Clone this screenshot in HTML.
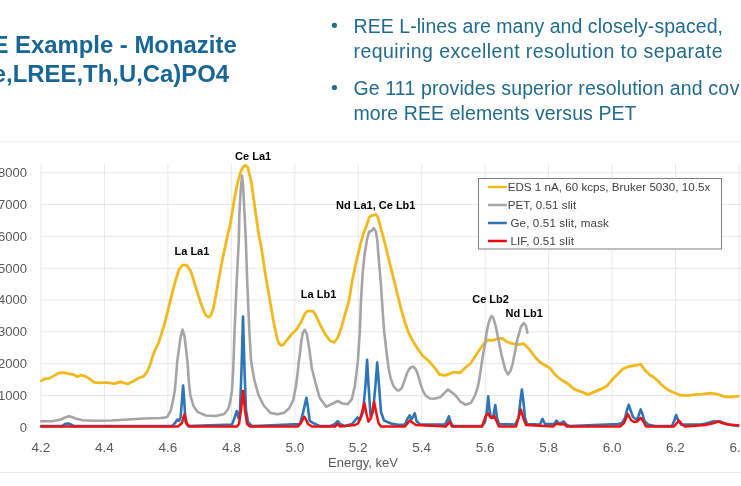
<!DOCTYPE html>
<html><head><meta charset="utf-8">
<style>
html,body{margin:0;padding:0;background:#fff;}
body{width:741px;height:486px;overflow:hidden;position:relative;font-family:"Liberation Sans",Arial,sans-serif;}
svg{position:absolute;left:0;top:0;}
</style></head><body>
<svg width="741" height="486" viewBox="0 0 741 486">
<g font-family="Liberation Sans, Arial, sans-serif" font-weight="bold" font-size="23.9" fill="#186696">
<text x="-40.8" y="52.7">REE Example - Monazite</text>
<text x="-32.4" y="81.8">(Ce,LREE,Th,U,Ca)PO4</text>
</g>
<g font-family="Liberation Sans, Arial, sans-serif" font-size="19.5" fill="#226b8c">
<circle cx="334.4" cy="25.3" r="2.6"/>
<circle cx="334.4" cy="87.5" r="2.6"/>
<text x="353.5" y="33.2" textLength="369.5" lengthAdjust="spacing">REE L-lines are many and closely-spaced,</text>
<text x="353.5" y="58.1" textLength="369" lengthAdjust="spacing">requiring excellent resolution to separate</text>
<text x="353.5" y="95.4" letter-spacing="0.135">Ge 111 provides superior resolution and co<tspan dx="0.5">v</tspan><tspan dx="3">ers</tspan></text>
<text x="353.5" y="120.3" textLength="283" lengthAdjust="spacing">more REE elements versus PET</text>
</g>
<line x1="0" y1="141.9" x2="741" y2="141.9" stroke="#ececec" stroke-width="1"/>
<line x1="0" y1="472.4" x2="741" y2="472.4" stroke="#e6e6e6" stroke-width="1"/>
<g stroke="#e8e8e8" stroke-width="1">
<line x1="41" y1="395.5" x2="741" y2="395.5"/>
<line x1="41" y1="363.6" x2="741" y2="363.6"/>
<line x1="41" y1="331.8" x2="741" y2="331.8"/>
<line x1="41" y1="300.0" x2="741" y2="300.0"/>
<line x1="41" y1="268.2" x2="741" y2="268.2"/>
<line x1="41" y1="236.3" x2="741" y2="236.3"/>
<line x1="41" y1="204.5" x2="741" y2="204.5"/>
<line x1="41" y1="172.7" x2="741" y2="172.7"/>
<line x1="41.0" y1="163.5" x2="41.0" y2="427.3"/>
<line x1="104.5" y1="163.5" x2="104.5" y2="427.3"/>
<line x1="167.9" y1="163.5" x2="167.9" y2="427.3"/>
<line x1="231.4" y1="163.5" x2="231.4" y2="427.3"/>
<line x1="294.8" y1="163.5" x2="294.8" y2="427.3"/>
<line x1="358.2" y1="163.5" x2="358.2" y2="427.3"/>
<line x1="421.7" y1="163.5" x2="421.7" y2="427.3"/>
<line x1="485.2" y1="163.5" x2="485.2" y2="427.3"/>
<line x1="548.6" y1="163.5" x2="548.6" y2="427.3"/>
<line x1="612.1" y1="163.5" x2="612.1" y2="427.3"/>
<line x1="675.5" y1="163.5" x2="675.5" y2="427.3"/>
<line x1="739.0" y1="163.5" x2="739.0" y2="427.3"/>
</g>
<g font-family="Liberation Sans, Arial, sans-serif" font-size="13" fill="#595959">
<text x="27" y="431.6" text-anchor="end">0</text>
<text x="27" y="399.8" text-anchor="end">1000</text>
<text x="27" y="367.9" text-anchor="end">2000</text>
<text x="27" y="336.1" text-anchor="end">3000</text>
<text x="27" y="304.3" text-anchor="end">4000</text>
<text x="27" y="272.5" text-anchor="end">5000</text>
<text x="27" y="240.6" text-anchor="end">6000</text>
<text x="27" y="208.8" text-anchor="end">7000</text>
<text x="27" y="177.0" text-anchor="end">8000</text>
<text x="41.0" y="451.6" text-anchor="middle" font-size="13.5">4.2</text>
<text x="104.5" y="451.6" text-anchor="middle" font-size="13.5">4.4</text>
<text x="167.9" y="451.6" text-anchor="middle" font-size="13.5">4.6</text>
<text x="231.4" y="451.6" text-anchor="middle" font-size="13.5">4.8</text>
<text x="294.8" y="451.6" text-anchor="middle" font-size="13.5">5.0</text>
<text x="358.2" y="451.6" text-anchor="middle" font-size="13.5">5.2</text>
<text x="421.7" y="451.6" text-anchor="middle" font-size="13.5">5.4</text>
<text x="485.2" y="451.6" text-anchor="middle" font-size="13.5">5.6</text>
<text x="548.6" y="451.6" text-anchor="middle" font-size="13.5">5.8</text>
<text x="612.1" y="451.6" text-anchor="middle" font-size="13.5">6.0</text>
<text x="675.5" y="451.6" text-anchor="middle" font-size="13.5">6.2</text>
<text x="739.0" y="451.6" text-anchor="middle" font-size="13.5">6.4</text>
<text x="363" y="466.5" text-anchor="middle">Energy, keV</text>
</g>
<g fill="none" stroke-linejoin="round" stroke-linecap="round" stroke-width="2.8">
<polyline stroke="#f2b91e" points="41.2,380.9 45.1,378.7 49.4,378.4 53.7,375.9 58.8,373.0 63.8,372.7 69.6,374.0 73.2,374.4 76.8,376.6 81.1,375.1 84.7,376.1 89.0,378.4 94.1,382.3 99.8,382.8 104.9,382.6 107.0,382.6 112.8,383.3 114.8,383.7 120.5,381.8 127.5,384.0 133.3,381.3 138.6,378.0 143.6,376.3 146.9,372.2 150.1,364.8 152.6,356.6 155.1,350.0 158.8,342.3 162.0,332.0 165.0,322.3 170.1,301.7 175.3,281.2 179.4,268.8 182.5,265.1 186.6,265.1 190.7,270.9 195.8,287.3 201.0,303.8 205.1,314.1 207.0,316.3 208.8,317.0 210.6,315.8 213.4,308.2 216.5,291.7 219.5,275.3 222.6,258.8 225.7,244.4 228.8,230.0 230.0,226.0 234.4,198.8 237.6,182.7 240.9,171.3 243.5,166.6 245.5,165.3 247.8,167.5 251.3,182.0 255.9,214.8 258.8,235.0 261.2,246.5 265.5,275.3 269.8,300.0 274.2,325.0 277.5,340.0 279.2,343.8 281.0,345.4 283.0,344.8 285.5,341.8 291.7,334.2 296.5,329.5 301.5,321.3 304.8,313.9 307.2,311.1 313.0,311.1 316.3,316.3 320.4,325.4 325.3,334.4 330.3,341.0 334.4,342.3 337.7,337.7 341.8,326.2 345.9,311.4 349.2,299.9 351.7,283.8 355.5,265.0 357.9,255.0 360.5,244.0 363.0,234.8 366.6,225.6 369.2,217.3 371.7,215.3 373.8,215.3 375.9,214.3 377.9,217.3 381.0,228.7 384.1,240.0 387.7,255.0 390.0,264.1 394.9,283.8 397.6,295.0 401.1,309.0 404.6,321.2 408.1,331.7 412.5,340.5 416.9,347.4 420.0,352.0 423.0,356.2 426.5,359.0 430.0,362.3 435.2,368.4 439.6,374.5 445.0,375.4 446.8,374.9 453.5,372.2 460.0,372.8 465.0,368.0 470.0,364.0 473.5,359.0 477.4,353.0 480.5,348.5 483.9,343.7 487.6,340.0 490.5,340.3 494.1,340.0 497.8,338.5 502.4,338.5 507.0,341.9 512.6,343.7 518.1,344.6 523.7,343.7 526.5,346.5 529.3,349.3 534.8,356.7 540.0,362.2 550.0,368.3 555.6,375.2 561.1,379.8 567.6,383.5 574.1,389.1 581.5,391.9 588.0,394.6 594.4,391.9 600.9,389.1 606.5,386.3 612.0,379.8 617.6,374.3 623.1,368.7 627.8,366.9 633.3,365.6 638.0,365.0 640.7,364.1 644.4,369.6 650.0,375.2 652.1,376.1 657.7,380.7 663.2,386.3 668.8,390.4 674.3,392.8 679.9,395.2 687.3,395.6 694.7,394.6 702.1,394.1 711.4,393.1 716.9,394.1 725.6,396.9 731.0,397.0 736.5,396.4 738.2,396.2"/>
<polyline stroke="#a5a5a5" stroke-width="2.6" points="41.2,421.2 52.3,421.2 60.2,419.8 64.0,418.0 68.9,416.2 72.0,417.0 75.3,418.4 82.6,420.2 95.0,420.8 111.5,420.5 127.9,419.5 144.4,418.5 160.8,418.0 165.0,417.5 167.4,416.7 170.7,410.9 173.2,399.4 175.0,389.5 177.3,360.9 180.4,338.2 182.5,329.5 184.5,336.2 187.6,362.9 188.7,380.0 190.3,395.4 193.4,405.7 197.5,411.9 205.7,415.5 216.0,416.0 224.2,414.0 228.4,408.8 230.4,400.6 232.0,390.3 233.2,370.0 234.6,330.0 236.6,283.8 238.8,240.0 239.4,213.2 240.6,191.6 242.0,175.8 243.0,184.4 244.5,213.2 245.8,240.0 247.3,283.8 249.3,330.0 251.0,360.0 252.5,370.0 254.4,380.1 258.4,394.8 263.7,405.5 270.4,412.9 277.1,414.2 283.8,412.9 289.2,408.2 293.2,400.2 295.9,386.8 297.9,370.7 298.7,362.0 299.8,354.9 301.2,342.0 302.8,332.8 304.8,329.8 306.7,333.6 309.3,349.0 311.8,368.0 315.5,382.9 319.6,397.7 326.2,406.8 332.7,403.5 337.7,401.0 342.6,403.5 347.6,404.3 351.7,399.4 354.8,386.4 357.8,361.7 359.8,332.0 361.0,300.0 362.8,271.5 364.5,255.0 367.1,239.0 369.2,231.7 371.7,230.7 373.8,228.1 375.9,231.7 377.4,241.0 378.4,255.0 380.9,283.8 382.6,310.0 384.0,330.0 386.9,355.0 388.7,368.9 390.6,378.1 393.3,385.6 397.0,390.2 398.9,390.6 401.7,388.3 404.4,380.9 407.2,372.6 410.0,368.0 412.8,366.6 415.6,368.9 417.9,374.4 420.2,382.8 423.0,391.1 425.7,395.7 430.0,398.5 434.0,398.8 440.1,397.3 446.3,391.1 448.1,389.6 455.0,394.8 460.3,401.5 465.7,404.8 471.0,402.8 475.0,395.5 477.7,387.4 479.7,376.7 481.7,363.4 483.1,354.0 484.8,345.6 486.5,333.0 488.5,323.3 490.5,317.5 491.9,315.9 493.5,318.5 495.9,327.0 498.5,340.0 501.5,354.8 505.2,369.6 508.0,374.3 510.5,371.0 512.6,364.0 515.0,352.0 517.2,340.0 520.9,327.0 523.7,323.0 525.8,325.5 527.4,332.6"/>
<polyline stroke="#2e75b6" stroke-width="2.6" points="41.2,426.1 62.0,426.1 65.0,424.0 68.1,423.5 71.0,424.5 74.0,426.1 172.0,426.1 175.0,423.0 177.3,419.5 179.0,421.0 180.5,418.0 182.0,400.0 183.1,385.6 184.2,400.0 185.5,422.0 188.0,426.1 232.0,424.5 234.5,418.0 236.6,411.0 238.5,418.0 240.0,410.0 241.5,370.0 243.0,316.6 244.5,370.0 246.0,410.0 248.0,422.0 252.0,426.1 300.0,424.0 303.1,412.6 306.4,397.7 307.5,404.0 309.7,420.8 313.0,423.0 320.0,426.1 330.0,426.1 335.0,424.0 337.7,421.1 340.0,424.0 345.0,426.1 352.0,424.0 357.4,417.5 360.0,420.0 363.0,412.0 365.5,385.0 367.1,359.8 368.5,385.0 370.6,416.4 373.0,412.0 375.5,385.0 377.2,362.5 379.0,385.0 381.0,412.0 384.0,420.5 391.2,423.6 398.0,424.8 405.0,424.5 407.6,418.5 409.7,415.4 411.5,419.5 414.8,413.3 416.5,421.0 420.0,424.5 445.0,424.5 447.5,420.0 448.9,416.3 450.5,422.0 453.0,426.1 482.0,426.1 485.0,422.0 487.0,410.0 488.2,396.3 489.5,410.0 491.0,418.0 493.0,418.0 495.3,405.0 497.0,418.0 499.0,424.0 515.0,424.5 518.5,418.0 520.5,400.0 521.9,389.6 523.5,402.0 525.0,418.0 527.0,424.0 540.0,424.5 542.5,418.9 545.0,424.0 554.0,424.0 556.5,420.6 559.0,423.5 561.0,423.0 563.9,421.5 566.0,424.5 570.0,426.1 618.0,424.0 622.0,423.0 625.0,418.0 627.0,410.0 628.7,404.8 630.5,410.0 633.0,417.0 637.0,420.0 639.5,413.0 640.7,409.4 642.5,414.0 644.5,421.0 648.0,424.5 655.0,426.1 672.0,426.1 674.5,420.0 676.2,415.0 678.0,420.0 681.0,424.5 700.0,424.5 706.0,423.5 711.4,421.9 715.0,421.2 720.0,421.5 725.0,423.5 732.0,425.3 738.2,426.0"/>
<polyline stroke="#ee1111" stroke-width="2.5" points="41.2,426.5 178.0,426.5 182.0,423.0 183.5,417.0 184.5,414.4 185.5,418.0 187.0,424.0 190.0,426.5 237.0,426.5 239.0,424.0 241.0,410.0 243.0,391.0 245.0,410.0 247.0,424.0 250.0,426.5 298.0,426.5 301.0,423.0 303.0,419.0 304.4,416.7 306.0,419.5 308.0,424.0 312.0,426.5 335.0,426.5 337.7,424.0 340.0,426.5 355.0,425.0 358.0,423.5 361.0,416.0 364.4,403.0 366.5,414.0 368.5,421.6 371.0,418.0 374.1,402.0 376.5,414.0 378.5,423.0 381.0,426.5 405.0,426.5 409.7,420.5 413.0,423.0 416.0,425.0 446.0,426.5 449.5,421.7 452.0,426.5 482.0,426.5 485.6,416.3 488.2,413.3 490.0,417.0 492.0,418.0 494.1,415.8 496.0,420.0 499.0,426.5 516.0,426.5 518.5,418.0 520.9,409.6 523.0,417.0 526.0,425.0 553.0,426.5 556.5,423.5 560.0,424.5 564.0,424.0 567.0,426.5 620.0,426.5 624.0,423.0 627.8,414.1 631.0,420.0 634.0,422.0 637.0,421.5 640.7,417.8 643.0,421.0 646.0,426.5 674.0,426.5 677.0,423.0 679.0,420.6 682.0,424.5 685.0,426.5 705.0,425.0 712.0,423.5 718.8,421.5 722.0,423.0 728.0,424.5 738.2,425.3"/>
</g>
<g font-family="Liberation Sans, Arial, sans-serif" font-size="11" font-weight="bold" fill="#000">
<text x="235.1" y="160">Ce La1</text>
<text x="174.5" y="255">La La1</text>
<text x="336" y="208.8">Nd La1, Ce Lb1</text>
<text x="300.8" y="298">La Lb1</text>
<text x="472.2" y="303.2">Ce Lb2</text>
<text x="505.6" y="317">Nd Lb1</text>
</g>
<rect x="478.5" y="178.5" width="243" height="70.5" fill="#fff" stroke="#7f7f7f" stroke-width="1"/>
<g stroke-width="2.5">
<line x1="488" y1="187" x2="506.8" y2="187" stroke="#f7bc1a"/>
<line x1="488" y1="205" x2="506.8" y2="205" stroke="#a5a5a5"/>
<line x1="488" y1="223" x2="506.8" y2="223" stroke="#2e75b6"/>
<line x1="488" y1="241" x2="506.8" y2="241" stroke="#ff0000"/>
</g>
<g font-family="Liberation Sans, Arial, sans-serif" font-size="11.6" fill="#404040">
<text x="507.7" y="191" textLength="202.5" lengthAdjust="spacing">EDS 1 nA, 60 kcps, Bruker 5030, 10.5x</text>
<text x="507.7" y="209" textLength="68.5" lengthAdjust="spacing">PET, 0.51 slit</text>
<text x="510.4" y="227" textLength="98.5" lengthAdjust="spacing">Ge, 0.51 slit, mask</text>
<text x="510.4" y="245" textLength="63.5" lengthAdjust="spacing">LIF, 0.51 slit</text>
</g>
</svg>
</body></html>
